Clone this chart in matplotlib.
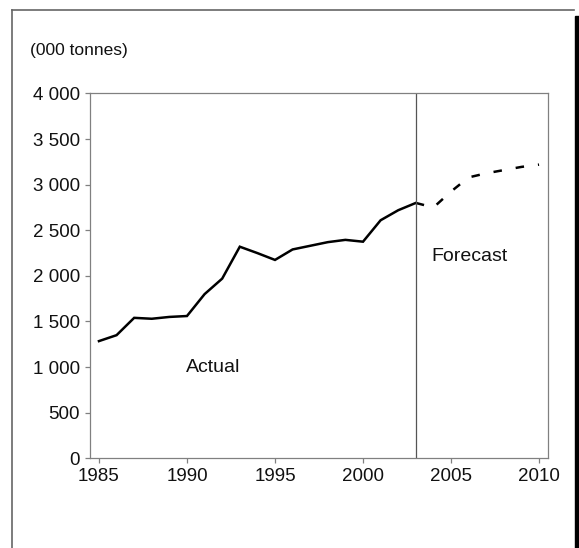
import matplotlib.pyplot as plt
from matplotlib.lines import Line2D
from matplotlib.patches import Rectangle
from matplotlib.ticker import FuncFormatter

plt.rcParams['font.family'] = ['Liberation Sans', 'DejaVu Sans']

# actual consumption, thousand tonnes
actual_years = [1985, 1986, 1987, 1988, 1989, 1990, 1991, 1992, 1993, 1994,
                1995, 1996, 1997, 1998, 1999, 2000, 2001, 2002, 2003]
actual_vals = [1285, 1350, 1540, 1530, 1550, 1560, 1800, 1970, 2320, 2250,
               2175, 2290, 2330, 2370, 2395, 2375, 2610, 2720, 2800]

# forecast
fc_years = [2003, 2004, 2005, 2006, 2007, 2008, 2009, 2010]
fc_vals = [2800, 2750, 2925, 3080, 3125, 3160, 3195, 3220]

split_year = 2003
xticks = [1985, 1990, 1995, 2000, 2005, 2010]
yticks = [0, 500, 1000, 1500, 2000, 2500, 3000, 3500, 4000]

fig = plt.figure(figsize=(5.79, 5.48), dpi=100)
ax = fig.add_axes([0.1554, 0.1637, 0.7911, 0.6657])

ax.plot(actual_years, actual_vals, color='black', lw=1.8, solid_joinstyle='miter')
ax.plot(fc_years, fc_vals, color='black', lw=1.8, dashes=(3.4, 5.6))
ax.axvline(split_year, color='#555555', lw=0.9)

ax.set_xlim(1984.49, 2010.51)
ax.set_ylim(0, 4000)
ax.set_xticks(xticks)
ax.set_yticks(yticks)
ax.yaxis.set_major_formatter(FuncFormatter(lambda v, p: f"{int(v):,}".replace(',', ' ')))

for s in ax.spines.values():
    s.set_color('#808080')
    s.set_linewidth(0.9)
ax.tick_params(length=3.6, width=0.9, color='#808080', labelsize=13.5, labelcolor='#111111', pad=3.5)

ax.text(1991.5, 1000, 'Actual', fontsize=14, ha='center', va='center', color='#111111')
ax.text(2003.9, 2212, 'Forecast', fontsize=14, ha='left', va='center', color='#111111')

fig.text(30 / 579, 1 - 50 / 548, '(000 tonnes)', fontsize=12.5, ha='left', va='center', color='#111111')

# outer frame
W, H = 579, 548
fig.add_artist(Line2D([12 / W, 12 / W], [0, 1 - 10 / H], color='#666666', lw=1.2, transform=fig.transFigure))
fig.add_artist(Line2D([12 / W, 574 / W], [1 - 10 / H, 1 - 10 / H], color='#666666', lw=1.2, transform=fig.transFigure))
fig.add_artist(Rectangle((575 / W, 0), 4 / W, 1 - 16 / H, color='black', transform=fig.transFigure))

fig.savefig('out.png', dpi=100)
